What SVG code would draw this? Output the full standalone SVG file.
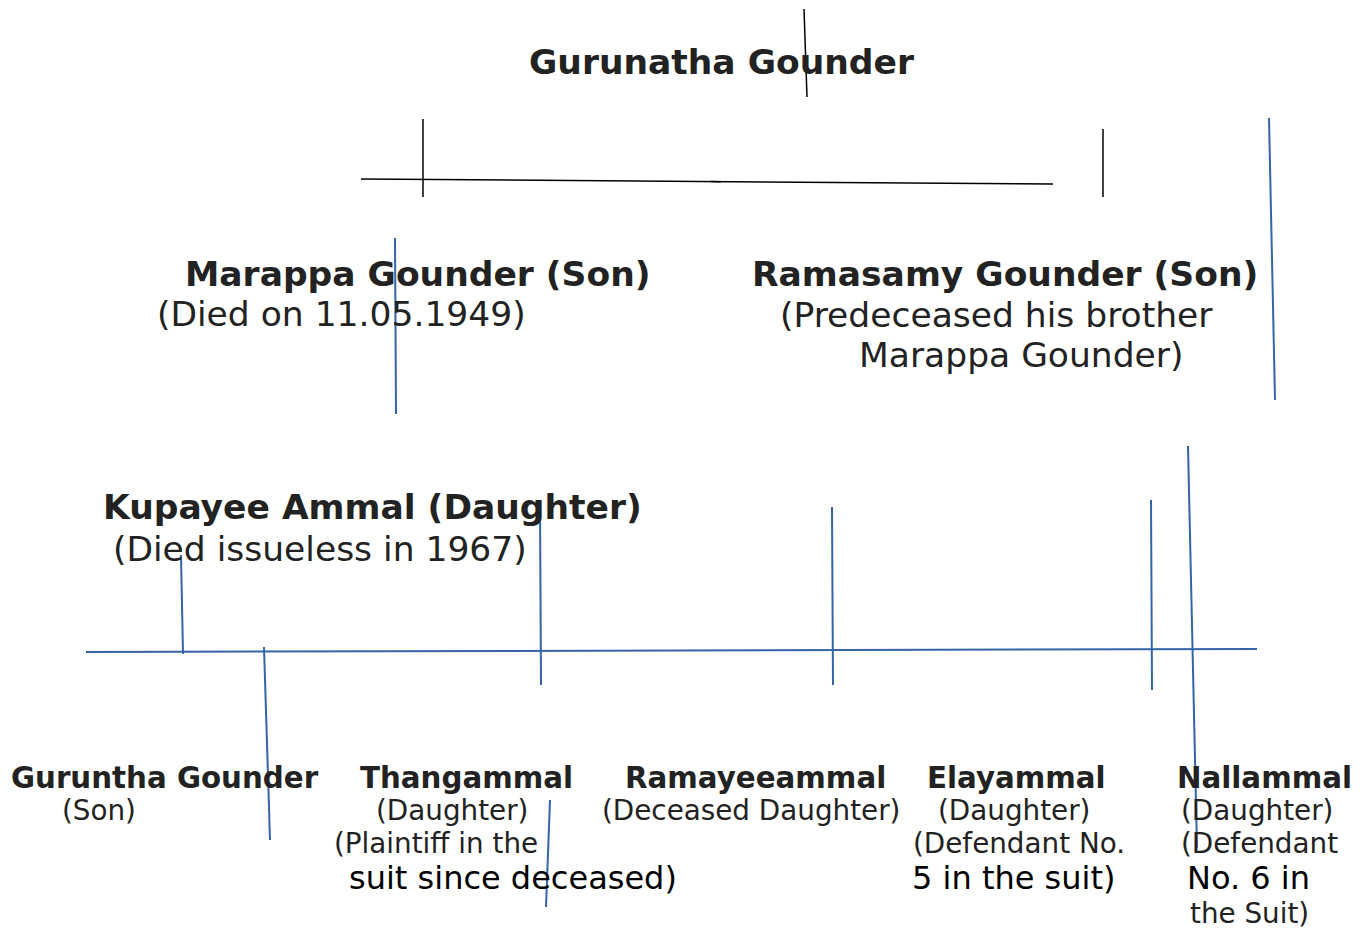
<svg xmlns="http://www.w3.org/2000/svg" width="1362" height="928" viewBox="0 0 1362 928">
<style>
text{font-family:"DejaVu Sans","Noto Sans",sans-serif;fill:#222}
.b{font-weight:bold}
.L{font-size:34.5px}
.n{font-size:29.3px;font-weight:bold}
.s{font-size:27.8px}
.k{font-size:32px;fill:#000}
.cb{stroke:#000;stroke-width:1.5;fill:none}
.cl{stroke:#3565a8;stroke-width:2;fill:none}
</style>
<rect width="1362" height="928" fill="#fff"/>
<g id="connectors">
<line class="cb" x1="804" y1="9" x2="807" y2="97"/>
<line class="cb" x1="423" y1="119" x2="423" y2="197"/>
<line class="cb" x1="361" y1="179" x2="1053" y2="184"/>
<line class="cb" x1="710" y1="181.6" x2="721" y2="181.7" stroke-width="2.5"/>
<line class="cb" x1="1103" y1="129" x2="1103" y2="197"/>
<line class="cl" x1="395" y1="238" x2="396" y2="414"/>
<line class="cl" x1="1269" y1="118" x2="1275" y2="400"/>
<line class="cl" x1="1188" y1="446" x2="1197" y2="848"/>
<line class="cl" x1="1151" y1="500" x2="1152" y2="690"/>
<line class="cl" x1="832" y1="507" x2="833" y2="685"/>
<line class="cl" x1="540" y1="505" x2="541" y2="685"/>
<line class="cl" x1="181" y1="555" x2="183" y2="654"/>
<line class="cl" x1="264" y1="647" x2="270" y2="840"/>
<line class="cl" x1="550" y1="800" x2="546" y2="907"/>
<line class="cl" x1="86" y1="652" x2="1257" y2="649"/>
</g>
<g id="gurunatha">
<text class="L b" x="529" y="74">Gurunatha Gounder</text>
</g>
<g id="marappa">
<text class="L b" x="185" y="286">Marappa Gounder (Son)</text>
<text class="L" x="157" y="326">(Died on 11.05.1949)</text>
</g>
<g id="ramasamy">
<text class="L b" x="752" y="286">Ramasamy Gounder (Son)</text>
<text class="L" x="780" y="327">(Predeceased his brother</text>
<text class="L" x="859" y="367">Marappa Gounder)</text>
</g>
<g id="kupayee">
<text class="L b" x="103" y="519">Kupayee Ammal (Daughter)</text>
<text class="L" x="113" y="561">(Died issueless in 1967)</text>
</g>
<g id="guruntha">
<text class="n" x="11" y="788">Guruntha Gounder</text>
<text class="s" x="62" y="820">(Son)</text>
</g>
<g id="thangammal">
<text class="n" x="360" y="788">Thangammal</text>
<text class="s" x="376" y="820">(Daughter)</text>
<text class="s" x="334" y="853">(Plaintiff in the</text>
<text class="k" x="349" y="889">suit since deceased)</text>
</g>
<g id="ramayeeammal">
<text class="n" x="625" y="788">Ramayeeammal</text>
<text class="s" x="602" y="820">(Deceased Daughter)</text>
</g>
<g id="elayammal">
<text class="n" x="927" y="788">Elayammal</text>
<text class="s" x="938" y="820">(Daughter)</text>
<text class="s" x="913" y="853">(Defendant No.</text>
<text class="k" x="912" y="889">5 in the suit)</text>
</g>
<g id="nallammal">
<text class="n" x="1177" y="788">Nallammal</text>
<text class="s" x="1181" y="820">(Daughter)</text>
<text class="s" x="1181" y="853">(Defendant</text>
<text class="k" x="1187" y="889">No. 6 in</text>
<text class="s" x="1190" y="923">the Suit)</text>
</g>
</svg>
